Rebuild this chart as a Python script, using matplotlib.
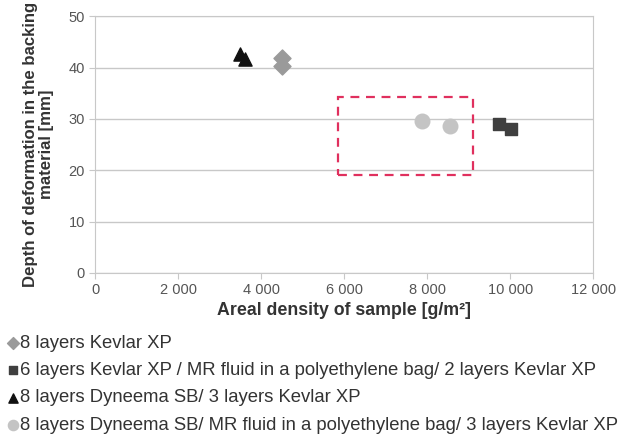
import matplotlib
matplotlib.use("Agg")
import matplotlib.pyplot as plt
from matplotlib.patches import Rectangle
from matplotlib.ticker import FuncFormatter

plt.rcParams['font.family'] = ['Liberation Sans', 'DejaVu Sans']

# Data
kevlar_x = [4510, 4510]
kevlar_y = [41.8, 40.3]
mr_kevlar_x = [9720, 10030]
mr_kevlar_y = [29.0, 28.1]
dyneema_x = [3480, 3600]
dyneema_y = [42.6, 41.6]
mr_dyneema_x = [7870, 8540]
mr_dyneema_y = [29.6, 28.7]

labels = [
    "8 layers Kevlar XP",
    "6 layers Kevlar XP / MR fluid in a polyethylene bag/ 2 layers Kevlar XP",
    "8 layers Dyneema SB/ 3 layers Kevlar XP",
    "8 layers Dyneema SB/ MR fluid in a polyethylene bag/ 3 layers Kevlar XP",
]

fig = plt.figure(figsize=(6.27, 4.41), dpi=100)
ax = fig.add_axes([0.152, 0.381, 0.794, 0.582])

s1 = ax.scatter(kevlar_x, kevlar_y, marker='D', s=75, color='#9a9a9a', zorder=3)
s2 = ax.scatter(mr_kevlar_x, mr_kevlar_y, marker='s', s=80, color='#3f3f3f', zorder=3)
s3 = ax.scatter(dyneema_x, dyneema_y, marker='^', s=90, color='#111111', zorder=3)
s4 = ax.scatter(mr_dyneema_x, mr_dyneema_y, marker='o', s=110, color='#c4c4c4', zorder=3)

# highlighted region
ax.add_patch(Rectangle((5850, 19.1), 3250, 15.2, fill=False, edgecolor='#e0305e',
                       linestyle=(0, (4, 3)), linewidth=1.6, zorder=4))

ax.set_xlim(0, 12000)
ax.set_ylim(0, 50)
ax.set_xticks(range(0, 12001, 2000))
ax.set_yticks(range(0, 51, 10))
ax.xaxis.set_major_formatter(FuncFormatter(lambda v, p: f"{int(v):,}".replace(",", " ")))
ax.yaxis.grid(True, color='#c8c8c8', linewidth=1)
ax.set_axisbelow(True)
for sp in ax.spines.values():
    sp.set_color('#c8c8c8')
ax.tick_params(axis='both', colors='#c8c8c8', labelcolor='#555555', labelsize=10.5, length=4)

ax.set_xlabel("Areal density of sample [g/m²]", fontsize=12.8, fontweight='bold',
              color='#333333', labelpad=3)
ax.set_ylabel("Depth of deformation in the backing\nmaterial [mm]", fontsize=12.1,
              fontweight='bold', color='#333333', labelpad=10.5, linespacing=1.05)

fig.legend([s1, s2, s3, s4], labels, loc='upper left', bbox_to_anchor=(0.0, 0.257),
           frameon=False, fontsize=13.3, handletextpad=0.09, labelspacing=0.55,
           markerscale=0.7, borderaxespad=0, borderpad=0.4, handlelength=0.6,
           labelcolor='#333333')

fig.savefig("out.png", dpi=100)
